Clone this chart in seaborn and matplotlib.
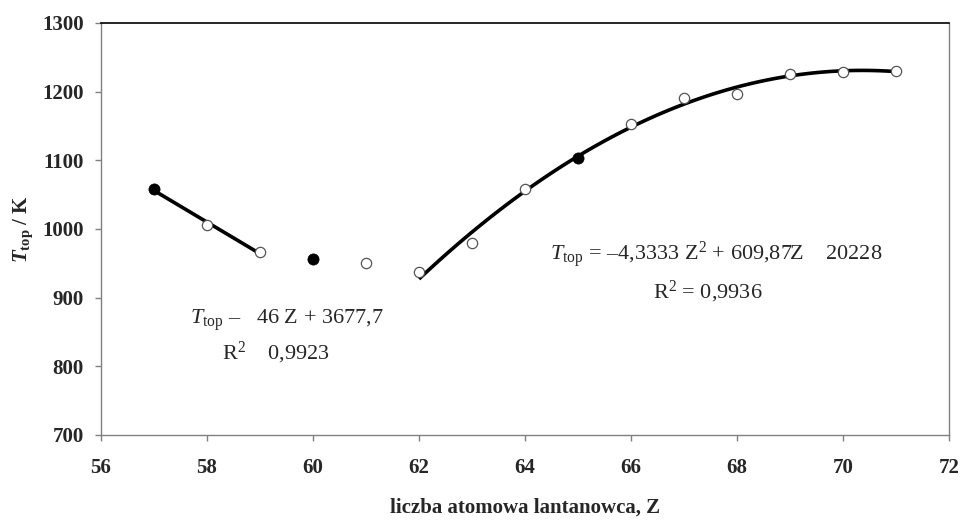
import numpy as np
import pandas as pd
import matplotlib
matplotlib.use("Agg")
import matplotlib.pyplot as plt
import seaborn as sns

# ---- data ----
Z = [57, 58, 59, 60, 61, 62, 63, 64, 65, 66, 67, 68, 69, 70, 71]
T_top = [1058, 1006, 966, 957, 951, 937, 979, 1058, 1104, 1153, 1191, 1197, 1226, 1228, 1230]
filled = [True, False, False, True, False, False, False, False, True,
          False, False, False, False, False, False]
lin_Z = [57, 58, 59]
quad_Z = [62, 63, 64, 65, 66, 67, 68, 69, 70, 71]
x_ticks = [56, 58, 60, 62, 64, 66, 68, 70, 72]
y_ticks = [700, 800, 900, 1000, 1100, 1200, 1300]
eq_left = [r"$T_{\rm top}$ –   46 Z + 3677,7", r"R$^2$    0,9923"]
eq_right = [r"$T_{\rm top}$ = –4,3333 Z$^2$ + 609,87Z    20228", r"R$^2$ = 0,9936"]
x_label = "liczba atomowa lantanowca, Z"

df = pd.DataFrame({"Z": Z, "T": T_top, "filled": filled})

sns.set_theme(style="white")
plt.rcParams["font.family"] = ["Liberation Serif", "DejaVu Serif"]
plt.rcParams["mathtext.fontset"] = "custom"
plt.rcParams["mathtext.rm"] = "Liberation Serif"
plt.rcParams["mathtext.it"] = "Liberation Serif:italic"
plt.rcParams["mathtext.bf"] = "Liberation Serif:bold"
plt.rcParams["mathtext.bfit"] = "Liberation Serif:bold:italic"

fig = plt.figure(figsize=(9.62, 5.2), dpi=100)
ax = fig.add_axes([0.105, 0.1635, 0.8815, 0.7923])

# regression lines
lin_df = df[df["Z"].isin(lin_Z)]
quad_df = df[df["Z"].isin(quad_Z)]
sns.regplot(data=lin_df, x="Z", y="T", order=1, ci=None, scatter=False,
            line_kws=dict(color="black", lw=2.6, solid_capstyle="butt"), ax=ax)
sns.regplot(data=quad_df, x="Z", y="T", order=2, ci=None, scatter=False,
            line_kws=dict(color="black", lw=2.6, solid_capstyle="butt"), ax=ax)

# points
sns.scatterplot(data=df[~df["filled"]], x="Z", y="T", marker="o", s=55,
                facecolor="white", edgecolor="#555555", linewidth=0.9, ax=ax, zorder=3)
sns.scatterplot(data=df[df["filled"]], x="Z", y="T", marker="o", s=65,
                color="black", edgecolor="black", linewidth=0.5, ax=ax, zorder=4)

ax.set_xlim(56, 72)
ax.set_ylim(700, 1300)
ax.set_xticks(x_ticks)
ax.set_yticks(y_ticks)
ax.set_xticklabels([str(v) for v in x_ticks], fontweight="bold", fontsize=15)
ax.set_yticklabels([str(v) for v in y_ticks], fontweight="bold", fontsize=15)
ax.tick_params(axis="both", direction="out", length=4.5, width=1, color="#808080")
ax.tick_params(axis="x", pad=12, bottom=True)
ax.tick_params(axis="y", pad=8, left=True)

for s in ["left", "bottom", "right"]:
    ax.spines[s].set_color("#808080")
    ax.spines[s].set_linewidth(1)
ax.spines["top"].set_color("black")
ax.spines["top"].set_linewidth(1.2)

ax.set_xlabel(x_label, fontweight="bold", fontsize=15, labelpad=14)
ax.set_ylabel(r"$\mathbfit{T}_{\mathbf{top}}$ / K", fontweight="bold", fontsize=15, labelpad=5)

ax.text(59.5, 867, eq_left[0], ha="center", va="center", fontsize=16)
ax.text(59.3, 819, eq_left[1], ha="center", va="center", fontsize=16)
ax.text(67.6, 962, eq_right[0], ha="center", va="center", fontsize=16)
ax.text(67.45, 908, eq_right[1], ha="center", va="center", fontsize=16)

fig.savefig("out.png", dpi=100)
